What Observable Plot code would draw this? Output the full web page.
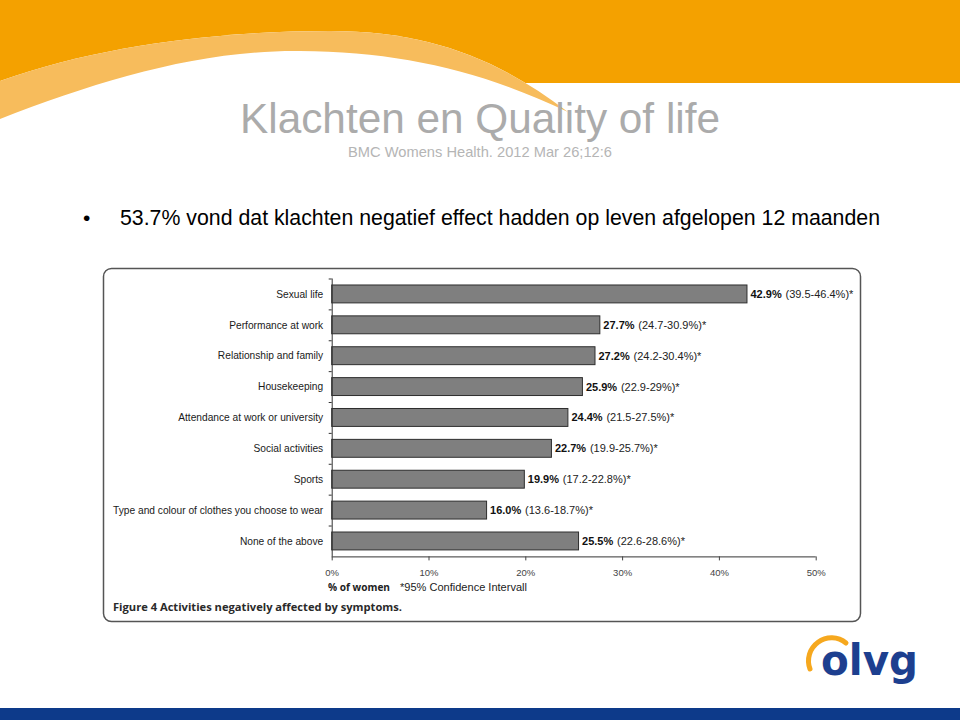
<!DOCTYPE html>
<html>
<head>
<meta charset="utf-8">
<script src="https://cdn.jsdelivr.net/npm/d3@7"></script>
<script src="https://cdn.jsdelivr.net/npm/@observablehq/plot@0.6"></script>
<style>
html, body { margin: 0; padding: 0; background: #fff; }
#page { position: relative; width: 960px; height: 720px; overflow: hidden; font-family: "Liberation Sans", Arial, sans-serif; }
#deco { position: absolute; left: 0; top: 0; }
#chart { position: absolute; left: 0; top: 268px; }
</style>
</head>
<body>
<div id="page">
  <svg id="deco" width="960" height="720" xmlns="http://www.w3.org/2000/svg">
    <rect x="0" y="0" width="960" height="83" fill="#F4A100"/>
    <path d="M0,81 C100,45 220,31 330,31 C430,31 500,60 568,112 L568,260 L0,260 Z" fill="#ffffff"/>
    <path d="M0,81 C100,45 220,31 330,31 C430,31 500,60 568,112 C480,70 400,52 300,51 C200,50 100,80 0,119 Z" fill="#F7BC5C"/>
    <text x="480" y="133" text-anchor="middle" font-size="42" fill="#ababab" textLength="480" lengthAdjust="spacingAndGlyphs" font-family="Liberation Sans, Arial, sans-serif">Klachten en Quality of life</text>
    <text x="480" y="157" text-anchor="middle" font-size="14.5" fill="#b5b5b5" textLength="264" lengthAdjust="spacingAndGlyphs" font-family="Liberation Sans, Arial, sans-serif">BMC Womens Health. 2012 Mar 26;12:6</text>
    <text x="83" y="225" font-size="21" fill="#000" font-family="Liberation Sans, Arial, sans-serif">•</text>
    <text x="120" y="225" font-size="21.3" fill="#000" textLength="760" lengthAdjust="spacingAndGlyphs" font-family="Liberation Sans, Arial, sans-serif">53.7% vond dat klachten negatief effect hadden op leven afgelopen 12 maanden</text>
    <rect x="103.5" y="268.5" width="757" height="353" rx="8" ry="8" fill="none" stroke="#555" stroke-width="1.5"/>
    <text x="328" y="591" font-size="11" font-weight="bold" fill="#222" textLength="62" lengthAdjust="spacingAndGlyphs" font-family="Open Sans, Liberation Sans, sans-serif">% of women</text>
    <text x="400" y="591" font-size="11" fill="#222" textLength="127" lengthAdjust="spacingAndGlyphs" font-family="Liberation Sans, Arial, sans-serif">*95% Confidence Intervall</text>
    <text x="113" y="611" font-size="11" font-weight="bold" fill="#2a2a2a" textLength="289" lengthAdjust="spacingAndGlyphs" font-family="Open Sans, Liberation Sans, sans-serif">Figure 4 Activities negatively affected by symptoms.</text>
    <path d="M810,669 A23,23 0 0 1 846,643" fill="none" stroke="#F6A81E" stroke-width="5" stroke-linecap="round"/>
    <text x="821" y="675" font-size="42" font-weight="bold" fill="#1d3f8f" textLength="97" lengthAdjust="spacingAndGlyphs" font-family="DejaVu Sans, sans-serif">olvg</text>
    <rect x="0" y="708" width="960" height="12" fill="#0d3a8a"/>
  </svg>
  <div id="chart"></div>
</div>
<script>
const categories = [
  "Sexual life",
  "Performance at work",
  "Relationship and family",
  "Housekeeping",
  "Attendance at work or university",
  "Social activities",
  "Sports",
  "Type and colour of clothes you choose to wear",
  "None of the above"
];
const values = [42.9, 27.7, 27.2, 25.9, 24.4, 22.7, 19.9, 16.0, 25.5];
const ciLabels = [
  "(39.5-46.4%)*",
  "(24.7-30.9%)*",
  "(24.2-30.4%)*",
  "(22.9-29%)*",
  "(21.5-27.5%)*",
  "(19.9-25.7%)*",
  "(17.2-22.8%)*",
  "(13.6-18.7%)*",
  "(22.6-28.6%)*"
];
const xTicks = [0, 10, 20, 30, 40, 50];

const data = categories.map((c, i) => ({
  category: c,
  value: values[i],
  label: values[i].toFixed(1) + "%",
  ci: ciLabels[i]
}));

const W = 960, H = 310, mT = 10.5, mB = 21.6, mL = 331.7, mR = 144.3;
const step = (H - mT - mB) / categories.length;

const chart = Plot.plot({
  width: W,
  height: H,
  marginTop: mT,
  marginBottom: mB,
  marginLeft: mL,
  marginRight: mR,
  style: { background: "transparent", overflow: "visible", fontFamily: "Liberation Sans, Arial, sans-serif", color: "#1a1a1a" },
  x: { domain: [0, 50] },
  y: { domain: categories, paddingInner: 0.42, paddingOuter: 0.21, round: false },
  marks: [
    Plot.barX(data, { x: "value", y: "category", fill: "#7f7f7f", stroke: "#2e2e2e", strokeWidth: 1 }),
    Plot.ruleX([0], { stroke: "#333" }),
    Plot.ruleY(categories, { y: d => d, x1: 0, x2: 0, insetLeft: -3, dy: -step / 2, stroke: "#333" }),
    Plot.ruleY([categories[categories.length - 1]], { y: d => d, x1: 0, x2: 50, dy: step / 2, stroke: "#333" }),
    Plot.axisX({ ticks: xTicks, tickFormat: d => d + "%", tickSize: 4, tickPadding: 8, fontSize: 9.5, label: null, color: "#444" }),
    Plot.axisY({ tickSize: 0, tickPadding: 9, fontSize: 10.2, label: null, color: "#1a1a1a" }),
    Plot.text(data, { x: "value", y: "category", text: "label", dx: 3, textAnchor: "start", fontWeight: "bold", fontSize: 11, fill: "#111" }),
    Plot.text(data, { x: "value", y: "category", text: "ci", dx: 38, textAnchor: "start", fontSize: 11, fill: "#222" })
  ]
});

document.getElementById("chart").appendChild(chart);
</script>
</body>
</html>
